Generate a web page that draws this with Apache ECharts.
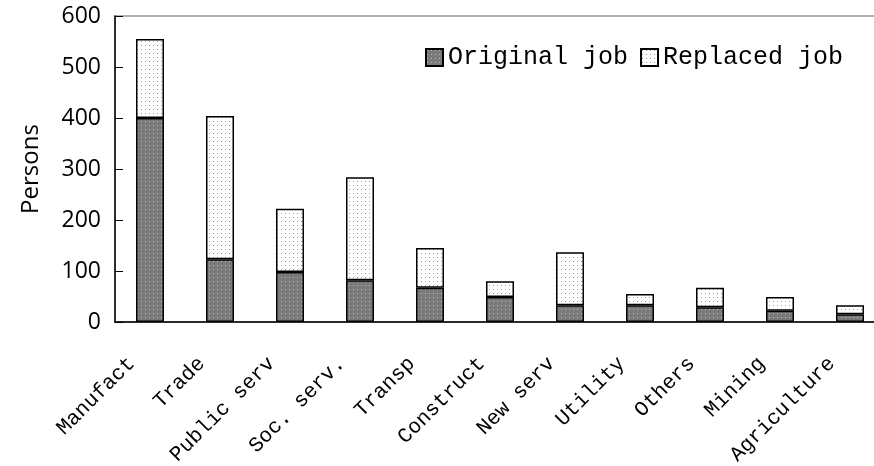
<!DOCTYPE html>
<html>
<head>
<meta charset="utf-8">
<script src="https://cdn.jsdelivr.net/npm/echarts@6/dist/echarts.min.js"></script>
<style>
  html, body { margin: 0; padding: 0; background: #fff; }
  #main { width: 874px; height: 466px; }
</style>
</head>
<body>
<div id="main"></div>
<script>
var categories = ['Manufact', 'Trade', 'Public serv', 'Soc. serv.', 'Transp', 'Construct',
  'New serv', 'Utility', 'Others', 'Mining', 'Agriculture'];
var originalJob = [400, 123, 98, 82, 67, 49, 33, 33, 29, 22, 15];
var replacedJob = [155, 281, 124, 202, 78, 31, 104, 22, 38, 27, 18];
var yTicks = [0, 100, 200, 300, 400, 500, 600];

// little dotted tiles for the fills
function dots(bg, dot) {
  var c = document.createElement('canvas');
  c.width = 4; c.height = 4;
  var g = c.getContext('2d');
  g.fillStyle = bg;
  g.fillRect(0, 0, 4, 4);
  g.fillStyle = dot;
  g.fillRect(1, 1, 1, 1);
  return c;
}

var chart = echarts.init(document.getElementById('main'));

var option = {
  animation: false,
  grid: {
    left: 115, width: 770, top: 16, height: 306,
    outerBoundsMode: 'none',
    show: true, borderColor: '#999', borderWidth: 1.5
  },
  legend: {
    left: 420, top: 40,
    itemWidth: 17, itemHeight: 17, itemGap: 12,
    icon: 'rect',
    textStyle: { fontFamily: 'Liberation Mono', fontSize: 25, color: '#000' },
    data: ['Original job', 'Replaced job']
  },
  xAxis: {
    type: 'category',
    data: categories,
    axisLine: { lineStyle: { color: '#000', width: 1.5 } },
    axisTick: { inside: true, length: 8, lineStyle: { color: '#000' } },
    axisLabel: {
      rotate: 45, margin: 20, interval: 0,
      fontFamily: 'Liberation Mono', fontSize: 21, color: '#000',
      padding: [0, 26, 0, 0]
    }
  },
  yAxis: {
    type: 'value',
    min: 0, max: 600, interval: 100,
    name: 'Persons',
    nameLocation: 'middle',
    nameGap: 72,
    nameTextStyle: { fontFamily: 'Open Sans', fontSize: 24, color: '#000' },
    axisLine: { show: true, lineStyle: { color: '#000', width: 1.5 } },
    axisTick: { show: true, inside: true, length: 8, lineStyle: { color: '#000' } },
    splitLine: { show: false },
    axisLabel: {
      margin: 14, fontFamily: 'Open Sans', fontSize: 23, color: '#000',
      formatter: function (v) { return yTicks.indexOf(v) >= 0 ? String(v) : ''; }
    }
  },
  series: [
    {
      name: 'Original job',
      type: 'bar',
      stack: 'jobs',
      barWidth: 28,
      data: originalJob,
      itemStyle: {
        color: { image: dots('#7a7a7a', '#bdbdbd'), repeat: 'repeat' },
        borderColor: '#000', borderWidth: 1.5
      }
    },
    {
      name: 'Replaced job',
      type: 'bar',
      stack: 'jobs',
      barWidth: 28,
      data: replacedJob,
      itemStyle: {
        color: { image: dots('#ffffff', '#9a9a9a'), repeat: 'repeat' },
        borderColor: '#000', borderWidth: 1.5
      }
    }
  ]
};

chart.setOption(option);
</script>
</body>
</html>
